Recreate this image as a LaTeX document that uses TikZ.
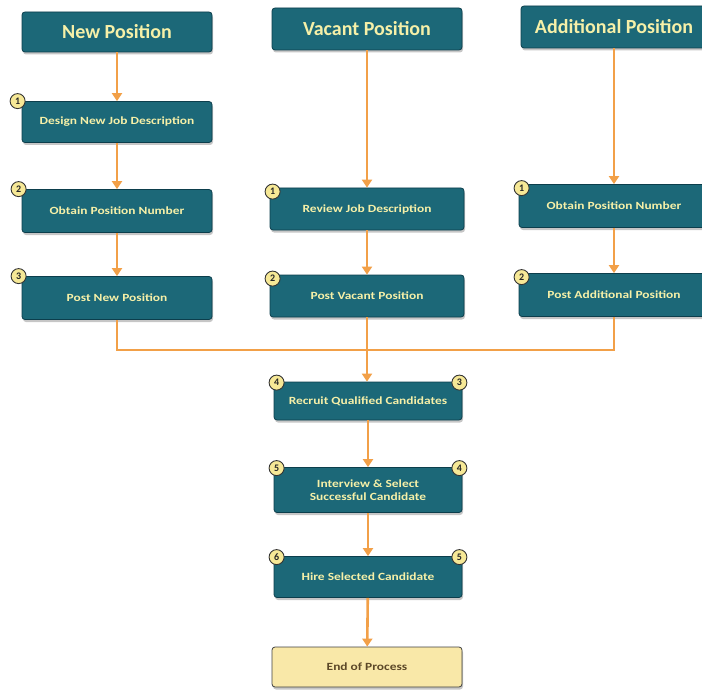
\documentclass[tikz,border=0pt]{standalone}
\usepackage{fontspec}
\setmainfont{Carlito}
\newfontfamily\stepfont[FakeStretch=1.22]{Carlito}
\usetikzlibrary{arrows.meta,shadows}

\definecolor{boxteal}{RGB}{28,104,120}
\definecolor{boxedge}{RGB}{12,62,76}
\definecolor{flow}{RGB}{242,160,72}
\definecolor{labeltext}{RGB}{246,240,168}
\definecolor{badgefill}{RGB}{246,232,150}
\definecolor{endfill}{RGB}{249,232,168}
\definecolor{endtext}{RGB}{92,72,40}

\tikzset{
  stepbox/.style={rectangle, rounded corners=3pt, fill=boxteal, draw=boxedge,
    line width=0.8pt, text=labeltext, align=center,
    font=\stepfont\bfseries\fontsize{11}{12.5}\selectfont,
    minimum width=190pt, minimum height=42pt, inner sep=2pt,
    drop shadow={shadow xshift=1pt, shadow yshift=-2.5pt, opacity=0.45}},
  headbox/.style={stepbox, font=\bfseries\fontsize{20}{22}\selectfont},
  endbox/.style={stepbox, fill=endfill, draw=black!75, text=endtext},
  badge/.style={circle, fill=badgefill, draw=black!80, line width=0.9pt,
    minimum size=15pt, inner sep=0pt, text=black!85,
    font=\bfseries\fontsize{10}{10}\selectfont},
  flowline/.style={draw=flow, line width=2.6pt},
  flowarrow/.style={flowline, -{Triangle[length=8pt,width=10pt]}},
}

\begin{document}
\begin{tikzpicture}[x=1pt,y=-1pt]
\useasboundingbox (0,0) rectangle (702,690);

% column headers
\node[headbox, minimum height=40pt] (hnew) at (117,32) {New Position};
\node[headbox] (hvac) at (367,29) {Vacant Position};
\node[headbox, minimum width=186pt] (hadd) at (614,27) {Additional Position};

% new position column
\node[stepbox, minimum height=41pt] (design) at (117,122) {Design New Job Description};
\node[stepbox, minimum height=43pt] (obtainN) at (117,211) {Obtain Position Number};
\node[stepbox, minimum height=43pt] (postN) at (117,298) {Post New Position};

% vacant position column
\node[stepbox, minimum width=194pt] (review) at (367,209) {Review Job Description};
\node[stepbox, minimum width=194pt] (postV) at (367,296) {Post Vacant Position};

% additional position column
\node[stepbox, minimum height=43pt] (obtainA) at (614,206) {Obtain Position Number};
\node[stepbox, minimum height=43pt] (postA) at (614,295) {Post Additional Position};

% shared steps
\node[stepbox, minimum width=188pt, minimum height=38pt] (recruit) at (368,401) {Recruit Qualified Candidates};
\node[stepbox, minimum width=188pt, minimum height=45pt] (interview) at (368,490) {Interview \& Select\\Successful Candidate};
\node[stepbox, minimum width=188pt, minimum height=41pt] (hire) at (368,577) {Hire Selected Candidate};
\node[endbox, minimum width=190pt, minimum height=40pt] (end) at (367,667) {End of Process};

% step numbers
\node[badge] at ([shift={(-4pt,0pt)}]design.north west) {1};
\node[badge] at ([shift={(-3pt,0pt)}]obtainN.north west) {2};
\node[badge] at ([shift={(-3pt,0pt)}]postN.north west) {3};
\node[badge] at ([shift={(3pt,-4pt)}]review.north west) {1};
\node[badge] at ([shift={(3pt,-4pt)}]postV.north west) {2};
\node[badge] at ([shift={(3pt,-4pt)}]obtainA.north west) {1};
\node[badge] at ([shift={(3pt,-4pt)}]postA.north west) {2};
\node[badge] at ([shift={(3pt,-1pt)}]recruit.north west) {4};
\node[badge] at ([shift={(-3pt,-1pt)}]recruit.north east) {3};
\node[badge] at ([shift={(3pt,-1pt)}]interview.north west) {5};
\node[badge] at ([shift={(-3pt,-1pt)}]interview.north east) {4};
\node[badge] at ([shift={(3pt,-1pt)}]hire.north west) {6};
\node[badge] at ([shift={(-3pt,-1pt)}]hire.north east) {5};

% connectors
\coordinate (merge) at (367,350);
\draw[flowarrow] (hnew) -- (design);
\draw[flowarrow] (design) -- (obtainN);
\draw[flowarrow] (obtainN) -- (postN);
\draw[flowarrow] (hvac) -- (review);
\draw[flowarrow] (review) -- (postV);
\draw[flowarrow] (hadd) -- (obtainA);
\draw[flowarrow] (obtainA) -- (postA);
\draw[flowline] (postN.south) |- (merge);
\draw[flowline] (postA.south) |- (merge);
\draw[flowarrow] (postV.south) -- (recruit.north -| postV.south);
\draw[flowarrow] (recruit) -- (interview);
\draw[flowarrow] (interview) -- (hire);
\draw[flowarrow] (hire) -- (end);
\end{tikzpicture}
\end{document}
